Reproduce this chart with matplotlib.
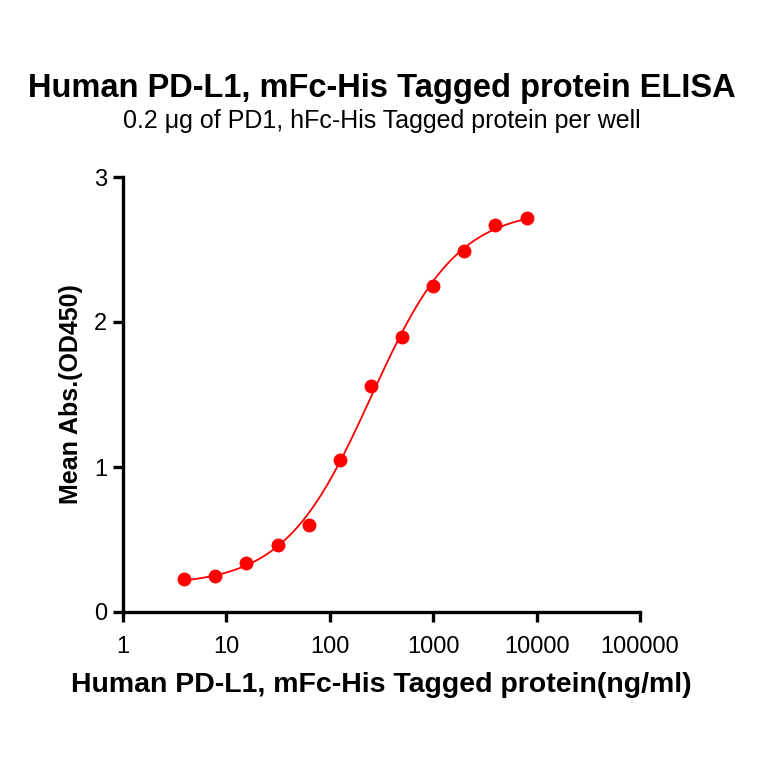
import numpy as np
import matplotlib
matplotlib.use("Agg")
import matplotlib.pyplot as plt
from matplotlib.ticker import FixedLocator, NullLocator

# Data.
conc = np.array([3.9, 7.8, 15.6, 31.25, 62.5, 125, 250, 500, 1000, 2000, 4000, 8000])
od450 = np.array([0.23, 0.25, 0.34, 0.46, 0.60, 1.05, 1.56, 1.90, 2.25, 2.49, 2.67, 2.72])

x_ticks = [1, 10, 100, 1000, 10000, 100000]
x_ticklabels = ["1", "10", "100", "1000", "10000", "100000"]
y_ticks = [0, 1, 2, 3]


# 4-parameter logistic fit (simple damped Gauss-Newton, no scipy).
def four_pl(x, p):
    bottom, top, logec50, hill = p
    return bottom + (top - bottom) / (1 + 10 ** ((logec50 - np.log10(x)) * hill))


def fit_4pl(x, y, p0, n_iter=200):
    p = np.array(p0, dtype=float)
    lam = 1e-2
    for _ in range(n_iter):
        r = y - four_pl(x, p)
        J = np.zeros((len(x), len(p)))
        for i in range(len(p)):
            dp = np.zeros_like(p)
            dp[i] = 1e-6
            J[:, i] = (four_pl(x, p + dp) - four_pl(x, p - dp)) / 2e-6
        A = J.T @ J + lam * np.eye(len(p))
        step = np.linalg.solve(A, J.T @ r)
        p_new = p + step
        if np.sum((y - four_pl(x, p_new)) ** 2) < np.sum(r ** 2):
            p = p_new
            lam *= 0.5
        else:
            lam *= 5
    return p


params = fit_4pl(conc, od450, [0.2, 2.8, np.log10(250), 1.0])
xs = np.logspace(np.log10(conc.min()), np.log10(conc.max()), 300)

plt.rcParams['font.family'] = ['Liberation Sans', 'DejaVu Sans']

fig = plt.figure(figsize=(7.64, 7.64), dpi=100)
ax = fig.add_axes([123 / 764, 1 - 612 / 764, (640 - 123) / 764, (612 - 177) / 764])

red = "#ff0000"
ax.plot(xs, four_pl(xs, params), color=red, lw=1.3, zorder=2)
ax.plot(conc, od450, "o", color=red, ms=9, mec=red, zorder=3, clip_on=False)

ax.set_xscale("log")
ax.set_xlim(1, 100000)
ax.set_ylim(0, 3)
ax.xaxis.set_major_locator(FixedLocator(x_ticks))
ax.xaxis.set_minor_locator(NullLocator())
ax.set_xticklabels(x_ticklabels)
ax.set_yticks(y_ticks)

for side in ["top", "right"]:
    ax.spines[side].set_visible(False)
for side in ["left", "bottom"]:
    ax.spines[side].set_linewidth(2.4)
ax.tick_params(axis="both", which="major", direction="out", length=7.5, width=2.4,
               labelsize=17)
ax.tick_params(axis="x", pad=10)
ax.tick_params(axis="y", pad=4)

ax.set_xlabel("Human PD-L1, mFc-His Tagged protein(ng/ml)", fontsize=20.5,
              fontweight="bold", labelpad=10)
ax.set_ylabel("Mean Abs.(OD450)", fontsize=18, fontweight="bold", labelpad=8)

fig.text(0.5, 1 - 88 / 764, "Human PD-L1, mFc-His Tagged protein ELISA",
         ha="center", va="center", fontsize=23.5, fontweight="bold")
fig.text(0.5, 1 - 121 / 764, "0.2 μg of PD1, hFc-His Tagged protein per well",
         ha="center", va="center", fontsize=18)

fig.savefig("out.png", dpi=100)
